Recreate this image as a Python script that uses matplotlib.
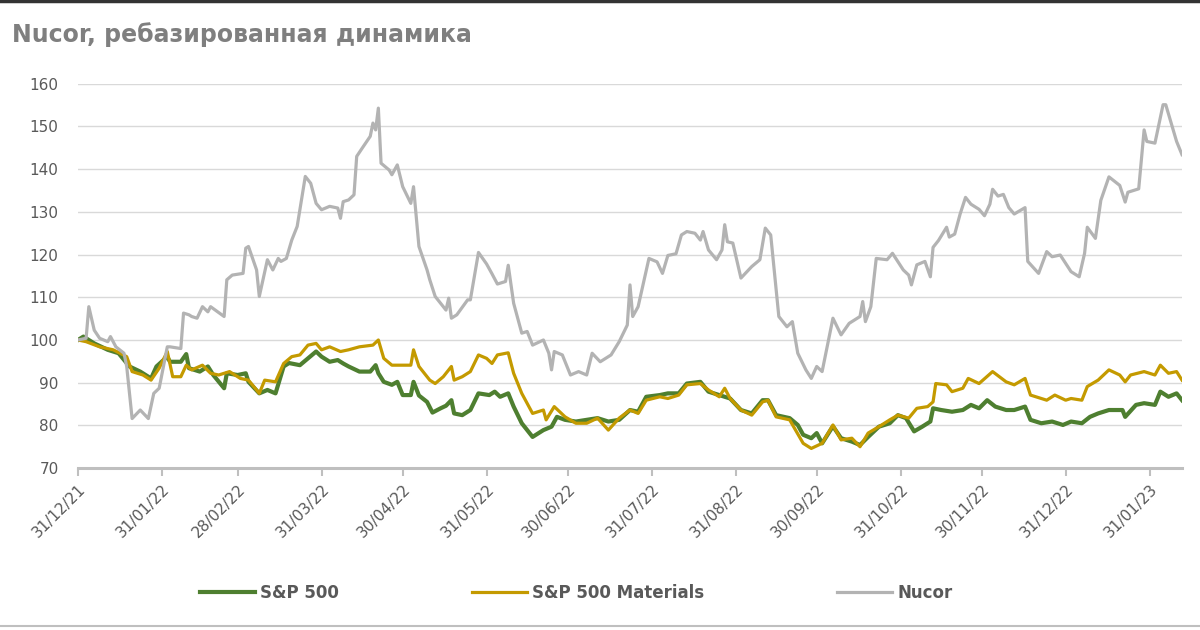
import matplotlib.pyplot as plt
import matplotlib.dates as mdates
from matplotlib.lines import Line2D
import pandas as pd

# days since 31/12/21 and rebased values
sp_days = [0, 2, 6, 11, 15, 19, 23, 27, 29, 33, 34, 38, 40, 41, 45, 48, 50, 54, 55, 59,
           62, 63, 67, 70, 73, 76, 78, 82, 85, 88, 90, 93, 96, 98, 100, 104, 108, 110, 111, 113,
           116, 118, 120, 123, 124, 126, 129, 131, 134, 136, 138, 139, 142, 145, 148, 152, 154, 156, 159, 161,
           164, 168, 172, 175, 177, 180, 184, 192, 196, 200, 204, 207, 210, 215, 218, 222, 225, 230, 233, 237,
           241, 245, 249, 253, 255, 258, 263, 266, 268, 271, 273, 275, 279, 282, 286, 289, 292, 296, 300, 303,
           306, 309, 312, 315, 316, 319, 323, 327, 330, 333, 336, 339, 343, 346, 350, 352, 356, 360, 364, 367,
           371, 374, 377, 381, 386, 387, 391, 394, 398, 400, 403, 406, 408]
sp500 = [100, 100.8, 99.2, 97.7, 96.9, 93.8, 92.6, 91, 93.8, 96.1, 94.9, 94.9, 96.7, 93.4, 92.6, 93.8, 91.8, 88.7, 92.2, 91.8,
         92.2, 90.2, 87.5, 88.3, 87.5, 93.8, 94.6, 94.1, 95.7, 97.3, 96.1, 94.9, 95.3, 94.5, 93.8, 92.6, 92.6, 94.1, 92.2, 90.2,
         89.5, 90.2, 87.1, 87.1, 90.2, 87, 85.5, 83, 84, 84.6, 85.9, 82.8, 82.4, 83.6, 87.5, 87.1, 87.9, 86.7, 87.5, 84.4,
         80.5, 77.3, 78.9, 79.7, 82, 81.3, 80.9, 81.7, 80.9, 81.3, 83.6, 83.2, 86.7, 87.1, 87.5, 87.5, 89.8, 90.2, 87.9, 87.1,
         86.3, 83.6, 82.8, 85.9, 85.9, 82.4, 81.7, 80.1, 77.8, 77, 78.2, 75.8, 79.8, 77, 76.2, 75.4, 77.3, 79.7, 80.5, 82.4,
         81.7, 78.6, 79.7, 80.9, 84, 83.6, 83.2, 83.6, 84.8, 84, 85.9, 84.4, 83.6, 83.6, 84.4, 81.3, 80.5, 80.9, 80.1, 80.9,
         80.5, 82, 82.8, 83.6, 83.6, 82, 84.8, 85.2, 84.8, 87.9, 86.7, 87.5, 85.9]

mat_days = [0, 3, 8, 13, 18, 20, 24, 27, 30, 33, 35, 38, 40, 42, 46, 49, 52, 56, 60, 63,
            67, 69, 73, 76, 79, 82, 85, 88, 90, 93, 97, 100, 104, 109, 111, 113, 116, 120, 123, 124,
            126, 130, 132, 135, 138, 139, 142, 145, 148, 151, 153, 155, 159, 161, 164, 168, 172, 173, 176, 180,
            184, 188, 192, 196, 200, 204, 207, 210, 215, 218, 222, 225, 230, 233, 237, 239, 241, 245, 249, 253,
            255, 258, 263, 268, 271, 275, 279, 282, 286, 289, 292, 296, 300, 303, 307, 310, 314, 316, 317, 321,
            323, 327, 329, 333, 338, 343, 346, 350, 352, 358, 361, 365, 367, 371, 373, 377, 381, 385, 387, 389,
            394, 398, 400, 403, 406, 408]
materials = [100, 99.6, 98.4, 97.7, 96.1, 92.6, 91.8, 90.6, 93.4, 97.3, 91.4, 91.4, 94.1, 93, 94.1, 92.2, 91.8, 92.6, 91, 90.6,
             87.5, 90.6, 90.2, 94.5, 96.1, 96.5, 98.8, 99.2, 97.7, 98.4, 97.3, 97.7, 98.4, 98.8, 100, 95.7, 94.1, 94.1, 94.1, 97.7,
             93.8, 90.6, 89.8, 91.4, 93.8, 90.6, 91.4, 92.6, 96.5, 95.7, 94.5, 96.5, 97, 92.2, 87.5, 82.8, 83.6, 81.3, 84.4, 82,
             80.5, 80.5, 81.7, 78.9, 81.7, 83.6, 82.8, 85.9, 86.7, 86.3, 87.1, 89.5, 89.8, 88.3, 86.7, 88.7, 86.3, 83.6, 82.4, 85.5,
             85.9, 82, 81.3, 75.8, 74.6, 75.8, 80.1, 76.6, 77, 75, 78.2, 79.7, 81.3, 82.4, 81.7, 84, 84.4, 85.5, 89.8, 89.5,
             87.9, 88.7, 91, 89.8, 92.6, 90.2, 89.5, 91, 87.1, 85.9, 87.1, 85.9, 86.3, 85.9, 89.1, 90.6, 93, 91.8, 90.2, 91.8,
             92.6, 91.8, 94.1, 92.2, 92.6, 90.6]

nue_days = [0, 3, 4, 6, 8, 11, 12, 14, 17, 18, 20, 23, 26, 28, 30, 33, 34, 38, 39, 41,
            42, 44, 46, 48, 49, 54, 55, 57, 61, 62, 63, 66, 67, 70, 72, 74, 75, 77, 79, 81,
            84, 86, 88, 90, 93, 96, 97, 98, 100, 102, 103, 105, 108, 109, 110, 111, 112, 115, 116, 118,
            120, 123, 124, 126, 129, 130, 132, 136, 137, 138, 140, 144, 145, 148, 151, 153, 155, 158, 159, 161,
            164, 166, 168, 172, 174, 175, 176, 179, 182, 185, 188, 190, 193, 196, 197, 200, 203, 204, 205, 207,
            211, 214, 216, 218, 221, 223, 225, 228, 230, 231, 233, 236, 238, 239, 240, 242, 245, 249, 252, 254,
            256, 259, 262, 264, 266, 269, 271, 273, 275, 279, 282, 285, 289, 290, 291, 293, 295, 299, 301, 305,
            307, 308, 310, 313, 315, 316, 318, 321, 322, 324, 326, 328, 330, 333, 335, 337, 338, 340, 342, 344,
            346, 350, 351, 355, 358, 360, 363, 367, 370, 372, 373, 376, 378, 381, 385, 387, 388, 392, 394, 395,
            398, 401, 402, 406, 408]
nucor = [100, 100.4, 107.8, 102.3, 100.4, 99.6, 100.8, 98.4, 96.9, 93.8, 81.6, 83.6, 81.6, 87.5, 88.7, 98.4, 98.4, 98, 106.3, 105.9,
         105.5, 105.1, 107.8, 106.6, 107.8, 105.5, 114.1, 115.2, 115.6, 121.5, 121.9, 116.4, 110.2, 118.8, 116.4, 119.1, 118.4, 119.1, 123.4, 126.6,
         138.3, 136.7, 132, 130.5, 131.3, 130.9, 128.5, 132.4, 132.8, 134, 143, 144.9, 147.7, 150.8, 149.2, 154.3, 141.4, 139.8, 138.7, 141,
         135.9, 132, 135.9, 121.9, 116.4, 114.1, 110.2, 107, 109.8, 105.1, 105.9, 109.4, 109.4, 120.5, 117.8, 115.5, 113.1, 113.7, 117.5, 108.6,
         101.6, 102, 98.8, 100, 96.9, 93, 97.3, 96.5, 91.8, 92.6, 91.8, 96.9, 94.9, 96.1, 96.5, 99.6, 103.5, 112.9, 105.5, 107.8,
         119.1, 118.3, 115.6, 119.8, 120.2, 124.6, 125.4, 125, 123.4, 125.4, 121.1, 118.8, 121.1, 127, 123, 122.7, 114.5, 117.2, 118.8, 126.2,
         124.6, 105.5, 103.1, 104.3, 96.9, 93, 91, 93.8, 92.6, 105.1, 101.2, 103.9, 105.5, 109, 104.3, 107.8, 119.1, 118.8, 120.3, 116.4,
         115.2, 112.9, 117.6, 118.4, 114.8, 121.7, 123.3, 126.4, 124.1, 124.8, 129.5, 133.4, 131.8, 130.6, 129.1, 131.8, 135.3, 133.7, 134.1, 131,
         129.5, 131, 118.4, 115.6, 120.7, 119.5, 119.9, 116, 114.8, 120.3, 126.4, 123.8, 132.7, 138.2, 136.2, 132.3, 134.6, 135.4, 149.2, 146.5,
         146.1, 155.1, 155.1, 146.5, 143.4]

tick_dates = ['2021-12-31', '2022-01-31', '2022-02-28', '2022-03-31', '2022-04-30', '2022-05-31', '2022-06-30',
              '2022-07-31', '2022-08-31', '2022-09-30', '2022-10-31', '2022-11-30', '2022-12-31', '2023-01-31']

base = pd.Timestamp('2021-12-31')
def to_dates(d):
    return base + pd.to_timedelta(d, unit='D')

text_col = '#595959'
fig = plt.figure(figsize=(12, 6.3), dpi=100)
ax = fig.add_axes([0.065, 0.257, 0.92, 0.61])

ax.plot(to_dates(sp_days), sp500, color='#4E7F30', lw=3.0, label='S&P 500', solid_joinstyle='round')
ax.plot(to_dates(mat_days), materials, color='#C49A00', lw=2.3, label='S&P 500 Materials', solid_joinstyle='round')
ax.plot(to_dates(nue_days), nucor, color='#B3B3B3', lw=2.3, label='Nucor', solid_joinstyle='round')

ax.set_ylim(70, 160)
ax.set_yticks(range(70, 161, 10))
ax.set_xlim(base, base + pd.Timedelta(days=408))
ax.grid(axis='y', color='#D9D9D9', lw=1)
ax.set_axisbelow(True)
for s in ['top', 'right', 'left']:
    ax.spines[s].set_visible(False)
ax.spines['bottom'].set_color('#BFBFBF')
ax.spines['bottom'].set_linewidth(2.2)

ax.set_xticks(pd.to_datetime(tick_dates))
ax.xaxis.set_major_formatter(mdates.DateFormatter('%d/%m/%y'))
ax.tick_params(axis='x', colors='#BFBFBF', length=6, width=1.5, labelcolor=text_col, labelsize=11)
ax.tick_params(axis='y', length=0, pad=14, labelcolor=text_col, labelsize=11)
for lab in ax.get_xticklabels():
    lab.set_rotation(45)
    lab.set_ha('right')
    lab.set_rotation_mode('anchor')

fig.text(0.01, 0.945, 'Nucor, ребазированная динамика', fontsize=17, fontweight='bold',
         color='#7F7F7F', va='center')

fig.legend(loc='center', bbox_to_anchor=(0.48, 0.059), ncol=3, frameon=False,
           handlelength=3.3, columnspacing=8, handletextpad=0.3,
           prop={'size': 12, 'weight': 'bold'}, labelcolor=text_col)

# thin frame lines at the top and bottom of the picture
fig.add_artist(Line2D([0, 1], [0.998, 0.998], color='#333333', lw=2.5, transform=fig.transFigure))
fig.add_artist(Line2D([0, 1], [0.006, 0.006], color='#BFBFBF', lw=1.5, transform=fig.transFigure))

fig.savefig('out.png', dpi=100, facecolor='white')
